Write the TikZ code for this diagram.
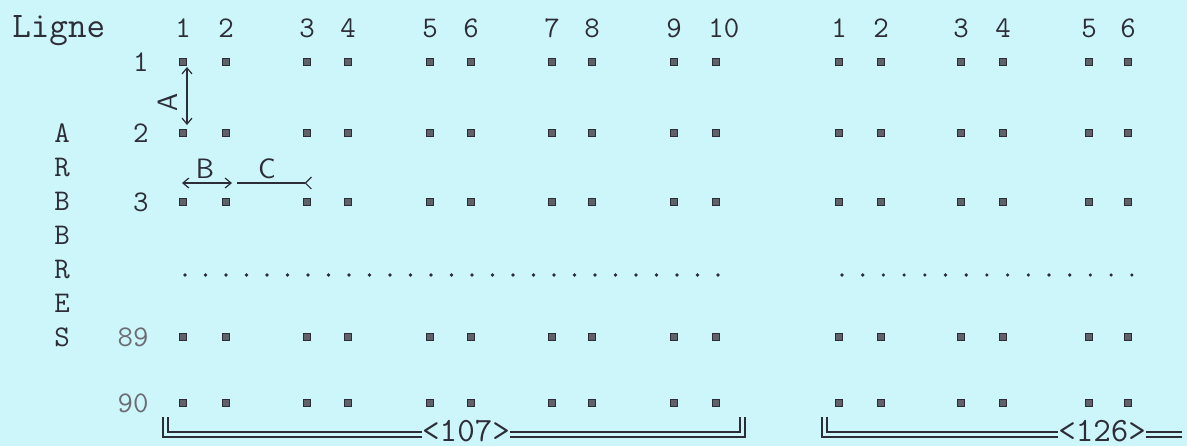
\documentclass[tikz,border=0pt]{standalone}
\usepackage{tikz}
\usetikzlibrary{arrows.meta,positioning,calc}
\definecolor{paper}{RGB}{204,246,250}
\definecolor{ink}{RGB}{45,45,55}

\begin{document}
\begin{tikzpicture}[x=0.5pt,y=-0.5pt,
  hole/.style={draw=ink,fill=ink!75,minimum size=3.8pt,inner sep=0pt,line width=0.4pt},
  txt/.style={font=\ttfamily\fontsize{15}{15}\selectfont,text=ink,inner sep=0pt},
  big/.style={font=\ttfamily\fontsize{17}{17}\selectfont,text=ink,inner sep=0pt},
  hand/.style={font=\sffamily\fontsize{14}{14}\selectfont,text=ink,inner sep=1pt},
  lin/.style={ink,line width=0.6pt},
  barb/.style={lin,{Straight Barb[length=3pt,width=5pt]}-{Straight Barb[length=3pt,width=5pt]}}]
% sheet
\fill[paper] (0,0) rectangle (1187,446);
\useasboundingbox (0,0) rectangle (1187,446);
% header
\node[txt,font=\ttfamily\fontsize{18}{18}\selectfont,anchor=base west] (ligne) at (12,37) {Ligne};
\foreach \x [count=\c] in {183,226,307,348,430,471,552,592,674,716}
  \node[txt,anchor=base west] (hl-\c) at (\x-8,37) {\c};
\foreach \x [count=\c] in {839,881,961,1003,1089,1128}
  \node[txt,anchor=base west] (hr-\c) at (\x-8,37) {\c};
% row numbers
\foreach \y/\t/\s in {62/1/ink,133/2/ink,202/3/ink,337/89/ink!70,403/90/ink!70}
  \node[txt,text=\s,anchor=base east] (row-\t) at (149,\y+9) {\t};
% vertical word
\foreach \l [count=\i] in {A,R,B,B,R,E,S}
  \node[txt,anchor=base] (v-\i) at (62,{133+34*(\i-1)+9}) {\l};
% holes
\foreach \y [count=\r] in {62,133,202,337,403} {
  \foreach \x [count=\c] in {183,226,307,348,430,471,552,592,674,716}
    \node[hole] (l-\r-\c) at (\x,\y) {};
  \foreach \x [count=\c] in {839,881,961,1003,1089,1128}
    \node[hole] (r-\r-\c) at (\x,\y) {};
}
% omitted rows
\foreach \i in {0,...,26}
  \fill[ink] ({185+20.5*\i},275) circle (0.9pt);
\foreach \i in {0,...,14}
  \fill[ink] ({842+20.7*\i},275) circle (0.9pt);
% spacings A, B, C
\draw[barb] ($(l-1-1)+(4,5)$) -- ($(l-2-1)+(4,-8)$);
\node[hand,rotate=90] (lblA) at (168,102) {A};
\draw[barb] ($(l-3-1)+(-1,-19)$) -- ($(l-3-2)+(6,-19)$);
\node[hand] (lblB) at (205,169) {B};
\draw[lin,-{Straight Barb[reversed,length=3pt,width=6pt]}] ($(l-3-2)+(11,-19)$) -- ($(l-3-3)+(5,-19)$);
\node[hand] (lblC) at (267,169) {C};
% left bracket
\draw[lin] (163,417) |- (422,437);
\draw[lin] (168,417) |- (422,432);
\node[big,anchor=base] (n107) at (466,441) {<107>};
\draw[lin] (510,432) -| (740,417);
\draw[lin] (510,437) -| (745,417);
% right bracket
\draw[lin] (822,417) |- (1058,437);
\draw[lin] (827,417) |- (1058,432);
\node[big,anchor=base] (n126) at (1102,441) {<126>};
\draw[lin] (1146,432) -- (1182,432);
\draw[lin] (1146,437) -- (1182,437);
\end{tikzpicture}
\end{document}
